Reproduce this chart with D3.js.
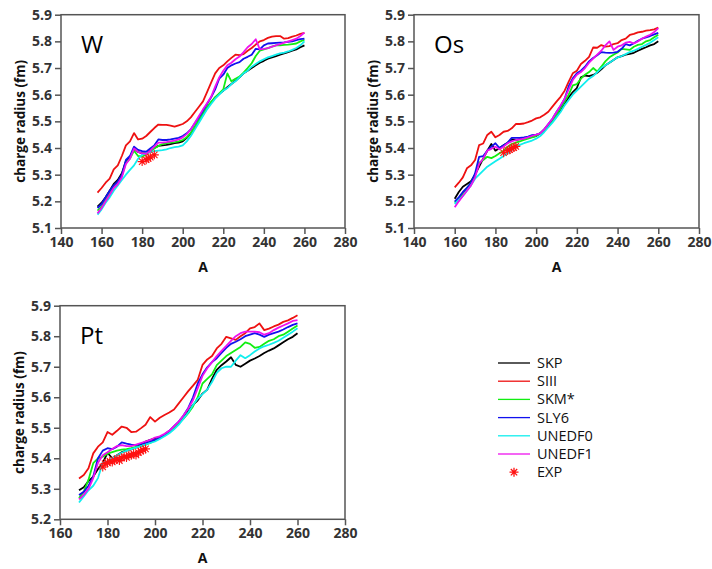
<!DOCTYPE html>
<html>
<head>
<meta charset="utf-8">
<script src="https://cdn.jsdelivr.net/npm/d3@7"></script>
<style>
  body { margin: 0; background: #fff; }
  text { font-family: "Open Sans", "DejaVu Sans", sans-serif; }
</style>
</head>
<body>
<div id="chart"></div>
<script>
// models, legend order
var models = ['SKP', 'SIII', 'SKM*', 'SLY6', 'UNEDF0', 'UNEDF1'];
var modelColors = ['#000000', '#ee1111', '#11ee11', '#1111ee', '#11eeee', '#ee11ee'];

// ---- W ----
var massW = [158,160,162,164,166,168,170,172,174,176,178,180,182,184,186,188,190,192,194,196,198,200,202,204,206,208,210,212,214,216,218,220,222,224,226,228,230,232,234,236,238,240,242,244,246,248,250,252,254,256,258,260];
var skpW = [5.18,5.195,5.215,5.24,5.265,5.28,5.305,5.35,5.365,5.395, 5.385,5.38,5.38,5.39,5.40,5.408,5.41,5.412,5.415,5.418, 5.42,5.425,5.438,5.455,5.478,5.5,5.525,5.55,5.57,5.59, 5.603,5.615,5.628,5.64,5.652,5.665,5.68,5.69,5.70,5.71, 5.72,5.727,5.735,5.74,5.745,5.75,5.755,5.76,5.765,5.77,5.778,5.785];
var siiiW = [5.233,5.25,5.27,5.285,5.32,5.335,5.37,5.41,5.425,5.456, 5.432,5.435,5.445,5.46,5.475,5.488,5.487,5.487,5.484,5.48, 5.485,5.49,5.5,5.515,5.535,5.555,5.575,5.61,5.645,5.68, 5.7,5.71,5.725,5.738,5.75,5.748,5.752,5.765,5.775,5.788, 5.8,5.805,5.813,5.818,5.82,5.82,5.81,5.812,5.818,5.822,5.828,5.832];
var skmW = [5.165,5.18,5.205,5.23,5.255,5.27,5.295,5.345,5.36,5.39, 5.37,5.368,5.375,5.388,5.398,5.408,5.415,5.418,5.42,5.422, 5.425,5.43,5.44,5.457,5.48,5.505,5.53,5.553,5.573,5.59, 5.605,5.62,5.68,5.65,5.66,5.668,5.683,5.70,5.718,5.745, 5.765,5.77,5.775,5.78,5.785,5.785,5.787,5.788,5.79,5.792,5.80,5.806];
var sly6W = [5.175,5.19,5.215,5.24,5.26,5.275,5.30,5.355,5.37,5.405, 5.393,5.388,5.386,5.398,5.41,5.432,5.43,5.43,5.432,5.435, 5.438,5.445,5.455,5.47,5.493,5.515,5.54,5.565,5.59,5.62, 5.66,5.675,5.70,5.71,5.717,5.722,5.735,5.742,5.75,5.772, 5.77,5.785,5.792,5.793,5.794,5.795,5.796,5.798,5.80,5.805,5.808,5.81];
var unedf0W = [5.15,5.17,5.195,5.215,5.24,5.26,5.28,5.30,5.318,5.335, 5.36,5.375,5.38,5.385,5.388,5.39,5.392,5.395,5.40,5.403, 5.405,5.41,5.425,5.445,5.47,5.495,5.52,5.545,5.565,5.585, 5.60,5.615,5.625,5.64,5.65,5.665,5.68,5.69,5.705,5.715, 5.725,5.733,5.74,5.745,5.75,5.755,5.758,5.762,5.768,5.775,5.785,5.80];
var unedf1W = [5.155,5.175,5.20,5.225,5.25,5.265,5.29,5.34,5.36,5.398, 5.385,5.38,5.378,5.39,5.405,5.42,5.42,5.422,5.425,5.428, 5.432,5.44,5.452,5.47,5.495,5.52,5.545,5.568,5.592,5.63, 5.665,5.69,5.71,5.72,5.733,5.743,5.76,5.778,5.79,5.808, 5.77,5.772,5.775,5.78,5.785,5.79,5.795,5.80,5.805,5.81,5.82,5.833];
var expMassW = [180,182,183,184,186];
var expW = [5.3491,5.3559,5.3611,5.3658,5.3743];

// ---- Os ----
var massOs = [160,162,164,166,168,170,172,174,176,178,180,182,184,186,188,190,192,194,196,198,200,202,204,206,208,210,212,214,216,218,220,222,224,226,228,230,232,234,236,238,240,242,244,246,248,250,252,254,256,258,260];
var skpOs = [5.21,5.235,5.255,5.265,5.275,5.30,5.33,5.36,5.39,5.415, 5.39,5.40,5.41,5.42,5.432,5.43,5.433,5.435,5.438,5.442, 5.445,5.455,5.47,5.485,5.50,5.52,5.54,5.565,5.59,5.61, 5.625,5.665,5.672,5.67,5.674,5.682,5.695,5.71,5.72,5.73, 5.74,5.745,5.75,5.753,5.757,5.765,5.772,5.778,5.785,5.79, 5.80];
var siiiOs = [5.2525,5.27,5.29,5.324,5.335,5.355,5.411,5.417,5.449,5.461, 5.44,5.449,5.461,5.464,5.474,5.49,5.49,5.492,5.497,5.503, 5.511,5.515,5.525,5.536,5.555,5.574,5.592,5.615,5.649,5.68, 5.69,5.715,5.727,5.742,5.777,5.776,5.786,5.78,5.782,5.79, 5.793,5.805,5.81,5.824,5.828,5.834,5.836,5.84,5.842,5.845, 5.852];
var skmOs = [5.195,5.21,5.23,5.25,5.27,5.30,5.345,5.355,5.367,5.362, 5.37,5.38,5.39,5.405,5.415,5.42,5.425,5.43,5.435,5.44, 5.445,5.455,5.465,5.48,5.50,5.525,5.55,5.575,5.60,5.635, 5.64,5.66,5.675,5.685,5.70,5.687,5.705,5.725,5.74,5.75, 5.758,5.772,5.77,5.768,5.78,5.787,5.79,5.80,5.805,5.815, 5.825];
var sly6Os = [5.199,5.215,5.235,5.25,5.27,5.305,5.367,5.37,5.39,5.405, 5.418,5.40,5.41,5.42,5.438,5.438,5.438,5.44,5.443,5.448, 5.45,5.455,5.47,5.49,5.51,5.535,5.558,5.585,5.632,5.661, 5.68,5.69,5.705,5.725,5.738,5.748,5.76,5.758,5.757,5.758, 5.761,5.772,5.79,5.785,5.793,5.802,5.81,5.815,5.82,5.826, 5.832];
var unedf0Os = [5.19,5.205,5.22,5.24,5.26,5.285,5.30,5.315,5.33,5.34, 5.35,5.36,5.37,5.38,5.392,5.405,5.412,5.418,5.423,5.428, 5.435,5.445,5.46,5.478,5.495,5.515,5.535,5.56,5.58,5.60, 5.615,5.63,5.645,5.66,5.67,5.685,5.70,5.71,5.72,5.73, 5.74,5.745,5.752,5.76,5.765,5.772,5.78,5.787,5.795,5.805, 5.815];
var unedf1Os = [5.178,5.20,5.22,5.24,5.26,5.29,5.34,5.36,5.39,5.397, 5.405,5.395,5.405,5.418,5.425,5.43,5.432,5.435,5.44,5.445, 5.45,5.455,5.47,5.49,5.51,5.535,5.56,5.585,5.62,5.655, 5.675,5.685,5.70,5.72,5.735,5.75,5.765,5.785,5.80,5.768, 5.78,5.785,5.795,5.798,5.792,5.80,5.81,5.818,5.825,5.835, 5.85];
var expMassOs = [184,186,187,188,189,190];
var expOs = [5.3823,5.3909,5.3933,5.3993,5.4016,5.4062];

// ---- Pt ----
var massPt = [168,170,172,174,176,178,180,182,184,186,188,190,192,194,196,198,200,202,204,206,208,210,212,214,216,218,220,222,224,226,228,230,232,234,236,238,240,242,244,246,248,250,252,254,256,258,260];
var skpPt = [5.295,5.305,5.325,5.34,5.365,5.385,5.418,5.40,5.41,5.42, 5.425,5.43,5.435,5.445,5.455,5.46,5.465,5.47,5.475,5.485, 5.50,5.515,5.535,5.555,5.575,5.59,5.612,5.625,5.66,5.69, 5.705,5.717,5.731,5.706,5.70,5.71,5.72,5.727,5.735,5.745, 5.753,5.76,5.77,5.78,5.79,5.798,5.81];
var siiiPt = [5.334,5.345,5.367,5.416,5.438,5.452,5.486,5.477,5.49,5.504, 5.5,5.486,5.487,5.498,5.51,5.535,5.52,5.533,5.542,5.55, 5.56,5.58,5.6,5.62,5.638,5.657,5.706,5.724,5.735,5.76, 5.775,5.798,5.793,5.788,5.80,5.81,5.826,5.83,5.842,5.82, 5.825,5.832,5.838,5.847,5.852,5.86,5.869];
var skmPt = [5.27,5.29,5.33,5.384,5.40,5.405,5.415,5.42,5.425,5.428, 5.43,5.433,5.437,5.44,5.445,5.45,5.46,5.468,5.477,5.488, 5.50,5.515,5.53,5.548,5.57,5.60,5.645,5.66,5.675,5.705, 5.72,5.735,5.745,5.755,5.765,5.78,5.775,5.762,5.765,5.775, 5.785,5.79,5.80,5.805,5.815,5.825,5.835];
var sly6Pt = [5.28,5.29,5.31,5.34,5.40,5.425,5.433,5.43,5.438,5.452, 5.448,5.445,5.443,5.447,5.45,5.455,5.46,5.468,5.478,5.49, 5.505,5.52,5.54,5.565,5.60,5.645,5.675,5.698,5.715,5.728, 5.745,5.762,5.775,5.782,5.79,5.80,5.805,5.81,5.805,5.798, 5.805,5.81,5.815,5.822,5.83,5.837,5.842];
var unedf0Pt = [5.255,5.275,5.295,5.31,5.335,5.385,5.39,5.40,5.41,5.418, 5.425,5.43,5.435,5.44,5.445,5.45,5.455,5.463,5.472,5.482, 5.495,5.51,5.53,5.55,5.575,5.595,5.61,5.625,5.65,5.68, 5.695,5.70,5.70,5.72,5.738,5.728,5.738,5.75,5.76,5.767, 5.772,5.778,5.785,5.795,5.805,5.815,5.826];
var unedf1Pt = [5.265,5.28,5.30,5.335,5.385,5.41,5.42,5.43,5.44,5.443, 5.44,5.44,5.445,5.45,5.455,5.46,5.468,5.472,5.48,5.49, 5.505,5.52,5.54,5.563,5.59,5.63,5.67,5.695,5.715,5.735, 5.752,5.768,5.785,5.80,5.81,5.815,5.815,5.815,5.813,5.805, 5.81,5.82,5.828,5.835,5.842,5.85,5.853];
var expMassPt = [178,179,180,181,182,183,184,185,186,187,188,189,190,191,192,193,194,195,196];
var expPt = [5.3715,5.3823,5.3848,5.3901,5.3878,5.3940,5.3980,5.3924,5.4011,5.4046,5.4029,5.4097,5.4097,5.4151,5.4108,5.4187,5.4236,5.4270,5.4307];

// tick labels
var xTicksA = [140,160,180,200,220,240,260,280];
var xTicksB = [160,180,200,220,240,260,280];
var yTicksA = [5.1,5.2,5.3,5.4,5.5,5.6,5.7,5.8,5.9];
var yTicksB = [5.2,5.3,5.4,5.5,5.6,5.7,5.8,5.9];

var panels = [
  { name: 'W',  left: 61,  top: 14.7,  w: 284, h: 213.3, xDom: [140, 280], yDom: [5.1, 5.9], xt: xTicksA, yt: yTicksA,
    mass: massW, series: [skpW, siiiW, skmW, sly6W, unedf0W, unedf1W], expA: expMassW, expR: expW },
  { name: 'Os', left: 414, top: 14.7,  w: 285, h: 213.3, xDom: [140, 280], yDom: [5.1, 5.9], xt: xTicksA, yt: yTicksA,
    mass: massOs, series: [skpOs, siiiOs, skmOs, sly6Os, unedf0Os, unedf1Os], expA: expMassOs, expR: expOs },
  { name: 'Pt', left: 60,  top: 305.7, w: 285, h: 213.6, xDom: [160, 280], yDom: [5.2, 5.9], xt: xTicksB, yt: yTicksB,
    mass: massPt, series: [skpPt, siiiPt, skmPt, sly6Pt, unedf0Pt, unedf1Pt], expA: expMassPt, expR: expPt }
];

var svg = d3.select('#chart').append('svg')
    .attr('width', 712).attr('height', 569);

function star(r) {
  var d = r * Math.SQRT1_2;
  return 'M' + (-r) + ',0L' + r + ',0M0,' + (-r) + 'L0,' + r +
         'M' + (-d) + ',' + (-d) + 'L' + d + ',' + d + 'M' + (-d) + ',' + d + 'L' + d + ',' + (-d);
}

panels.forEach(function (p) {
  var g = svg.append('g').attr('transform', 'translate(' + p.left + ',' + p.top + ')');
  var x = d3.scaleLinear().domain(p.xDom).range([0, p.w]);
  var y = d3.scaleLinear().domain(p.yDom).range([p.h, 0]);

  var xa = g.append('g').attr('transform', 'translate(0,' + p.h + ')')
    .call(d3.axisBottom(x).tickValues(p.xt).tickSize(6).tickSizeOuter(0).tickPadding(3).tickFormat(d3.format('d')));
  var ya = g.append('g')
    .call(d3.axisLeft(y).tickValues(p.yt).tickSize(6).tickSizeOuter(0).tickPadding(3).tickFormat(d3.format('.1f')));
  [xa, ya].forEach(function (a) {
    a.select('.domain').remove();
    a.selectAll('line').attr('stroke', '#555').attr('stroke-width', 1.5);
    a.selectAll('text').attr('fill', '#333').attr('font-size', 14).attr('font-weight', 700)
      .style('font-family', '"Open Sans", sans-serif');
  });

  var clip = 'clip-' + p.name;
  g.append('clipPath').attr('id', clip).append('rect').attr('width', p.w).attr('height', p.h);

  var line = d3.line().x(function (d) { return x(d[0]); }).y(function (d) { return y(d[1]); });
  var lines = g.append('g').attr('clip-path', 'url(#' + clip + ')');
  p.series.forEach(function (s, i) {
    var pts = p.mass.map(function (a, k) { return [a, s[k]]; }).filter(function (d) { return d[1] != null; });
    lines.append('path').datum(pts)
      .attr('d', line)
      .attr('fill', 'none')
      .attr('stroke', modelColors[i])
      .attr('stroke-width', 1.8)
      .attr('stroke-linejoin', 'round');
  });

  g.append('g').selectAll('path').data(p.expA.map(function (a, k) { return [a, p.expR[k]]; }))
    .join('path')
    .attr('transform', function (d) { return 'translate(' + x(d[0]) + ',' + y(d[1]) + ')'; })
    .attr('d', star(4.5))
    .attr('stroke', '#ff1111').attr('stroke-width', 1.1).attr('fill', 'none');

  g.append('rect').attr('width', p.w).attr('height', p.h)
    .attr('fill', 'none').attr('stroke', '#555').attr('stroke-width', 1.5);

  g.append('text').attr('x', 20).attr('y', 38)
    .attr('font-size', 24).attr('fill', '#000').text(p.name);

  g.append('text').attr('x', p.w / 2).attr('y', p.h + 44)
    .attr('text-anchor', 'middle').attr('font-size', 14).attr('font-weight', 700)
    .attr('fill', '#111').text('A');

  g.append('text')
    .attr('transform', 'translate(' + (-36) + ',' + (p.h / 2) + ') rotate(-90)')
    .attr('text-anchor', 'middle').attr('font-size', 13.5).attr('font-weight', 700)
    .attr('fill', '#111').text('charge radius (fm)');
});

// legend
var leg = svg.append('g').attr('transform', 'translate(498,363)');
var rows = models.concat(['EXP']);
rows.forEach(function (m, i) {
  var r = leg.append('g').attr('transform', 'translate(0,' + (i * 18.2) + ')');
  if (i < models.length) {
    r.append('line').attr('x1', 0).attr('x2', 32).attr('y1', 0).attr('y2', 0)
      .attr('stroke', modelColors[i]).attr('stroke-width', 1.3);
  } else {
    r.append('path').attr('transform', 'translate(16,0)').attr('d', star(4.5))
      .attr('stroke', '#ff1111').attr('stroke-width', 1.3).attr('fill', 'none');
  }
  r.append('text').attr('x', 39).attr('y', 5).attr('font-size', 14.5).attr('fill', '#111').text(m);
});
</script>
</body>
</html>
